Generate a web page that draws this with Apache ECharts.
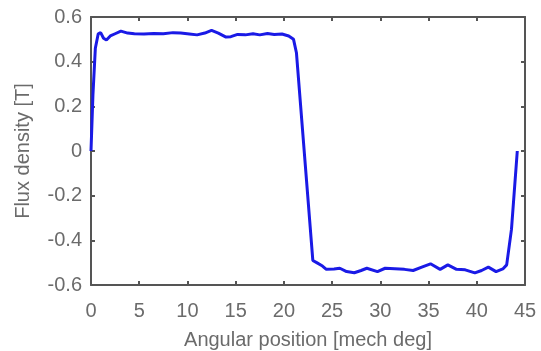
<!DOCTYPE html>
<html>
<head>
<meta charset="utf-8">
<script src="https://cdn.jsdelivr.net/npm/echarts@6/dist/echarts.min.js"></script>
<style>
  html, body { margin: 0; padding: 0; background: #fff; }
  #main { width: 541px; height: 351px; }
</style>
</head>
<body>
<div id="main"></div>
<script>
// angular position [mech deg]
const angle = [
  0, 0.2, 0.45, 0.75, 1.0, 1.3, 1.6, 2.0, 2.5, 3.1, 3.8, 4.5, 5.5, 6.5, 7.5, 8.5,
  9.3, 10.2, 11.0, 11.8, 12.5, 13.2, 14.0, 14.5, 15.2, 16.0, 16.8, 17.5, 18.3, 19.0,
  19.8, 20.5, 21.0, 21.3, 23.0, 23.4, 24.0, 24.4, 25.2, 25.8, 26.5, 27.3, 28.0, 28.6,
  29.7, 30.5, 31.5, 32.5, 33.4, 34.3, 35.2, 36.2, 37.0, 37.9, 38.8, 39.8, 40.5, 41.2,
  42.0, 42.7, 43.1, 43.6, 44.2
];
// flux density [T]
const flux = [
  0, 0.25, 0.46, 0.525, 0.53, 0.505, 0.497, 0.515, 0.525, 0.537, 0.528, 0.525, 0.524, 0.526, 0.525, 0.53,
  0.528, 0.524, 0.52, 0.528, 0.54, 0.528, 0.51, 0.512, 0.522, 0.52, 0.525, 0.52, 0.526, 0.522,
  0.524, 0.515, 0.50, 0.44, -0.49, -0.50, -0.515, -0.53, -0.528, -0.525, -0.54, -0.545, -0.535, -0.525,
  -0.54, -0.525, -0.527, -0.53, -0.535, -0.52, -0.505, -0.53, -0.51, -0.53, -0.532, -0.546, -0.535, -0.52,
  -0.54, -0.528, -0.51, -0.35, 0.0
];
const xTicks = [0, 5, 10, 15, 20, 25, 30, 35, 40, 45];
const yTicks = [-0.6, -0.4, -0.2, 0, 0.2, 0.4, 0.6];

const labelFont = { color: '#6b6b6b', fontSize: 20, fontFamily: 'Liberation Sans, Arial, sans-serif' };
const frameLine = { show: true, onZero: false, lineStyle: { color: '#555', width: 2 } };
const innerTick = { show: true, inside: true, length: 4, lineStyle: { color: '#555', width: 2 } };

const chart = echarts.init(document.getElementById('main'));
chart.setOption({
  backgroundColor: '#fff',
  animation: false,
  grid: { left: 91, right: 16, top: 17, bottom: 66, outerBoundsMode: 'none', containLabel: false },
  xAxis: [
    {
      type: 'value', min: xTicks[0], max: xTicks[xTicks.length - 1], interval: 5,
      axisLine: frameLine, axisTick: innerTick, splitLine: { show: false },
      axisLabel: Object.assign({ margin: 16 }, labelFont),
      name: 'Angular position [mech deg]', nameLocation: 'middle', nameGap: 45,
      nameTextStyle: labelFont
    },
    {
      type: 'value', position: 'top', min: xTicks[0], max: xTicks[xTicks.length - 1], interval: 5,
      axisLine: frameLine, axisTick: innerTick, axisLabel: { show: false }, splitLine: { show: false }
    }
  ],
  yAxis: [
    {
      type: 'value', min: yTicks[0], max: yTicks[yTicks.length - 1], interval: 0.2,
      axisLine: frameLine, axisTick: innerTick, splitLine: { show: false },
      axisLabel: Object.assign({ margin: 9, formatter: v => (Math.abs(v) < 1e-9 ? '0' : v.toFixed(1)) }, labelFont),
      name: 'Flux density [T]', nameLocation: 'middle', nameGap: 58,
      nameTextStyle: labelFont
    },
    {
      type: 'value', position: 'right', min: yTicks[0], max: yTicks[yTicks.length - 1], interval: 0.2,
      axisLine: frameLine, axisTick: innerTick, axisLabel: { show: false }, splitLine: { show: false }
    }
  ],
  series: [
    {
      type: 'line',
      data: angle.map((a, i) => [a, flux[i]]),
      showSymbol: false,
      lineStyle: { color: '#1a1ae6', width: 3 }
    }
  ]
});
</script>
</body>
</html>
